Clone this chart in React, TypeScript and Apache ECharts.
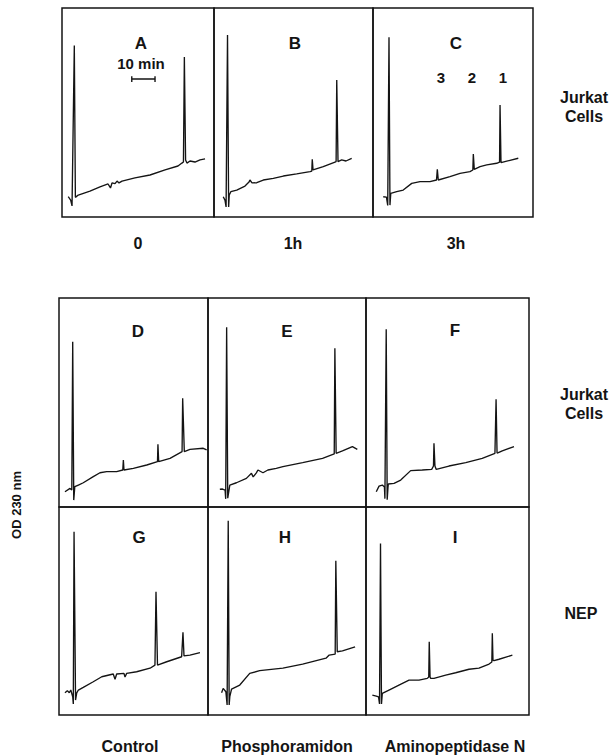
import React, { useEffect, useRef } from "react";
import * as echarts from "echarts";

// Retention time (% of run window) vs OD 230 nm (% of panel full scale)
const traceA: [number, number][] = [
  [4.1, 9.7], [5.7, 8.1], [6.6, 5.3], [8.1, 82], [8.8, 9.4], [10.7, 10.5], [18.4, 12.4], [25, 14.4],
  [30.3, 15.8], [31.9, 13.9], [32.9, 16.3], [34.9, 16], [36.2, 17.2], [37.5, 16.3], [39.5, 17.2],
  [48, 18.7], [57.9, 20.1], [67.8, 22.5], [76.3, 24.4], [78.9, 25.8], [79.9, 26.3], [80.5, 76.6],
  [81.3, 27.3], [82.2, 25.8], [84.2, 26.8], [87.5, 26.3], [90.8, 27.3], [94.1, 27.8],
];
const traceB: [number, number][] = [
  [5.8, 9.7], [6.9, 8.1], [7.6, 4.8], [8.5, 87.1], [9.2, 4.8], [9.6, 10.5], [10.6, 12.1], [14.3, 12.9],
  [19.5, 14.8], [22, 16.7], [22.6, 17.7], [23.9, 16.3], [26.9, 16.4], [31, 17.7], [37.3, 18.5],
  [43.6, 19.6], [52, 20.6], [60.4, 21.7], [61.5, 22], [61.8, 27.6], [62.3, 22.5], [68.7, 24.1],
  [76.1, 26.3], [76.8, 26.5], [77.2, 65.6], [78, 26.5], [80.3, 27.3], [83, 26.8], [86.6, 28.1],
];
const traceC: [number, number][] = [
  [6.4, 9.7], [8.4, 9.5], [9.2, 5.5], [10, 86], [10.6, 5.7], [11.1, 11.3], [14.8, 12.1], [18.9, 12.9],
  [24.2, 16.1], [29.4, 16.9], [35.6, 16.9], [39.7, 17.7], [40.2, 22.8], [40.8, 17.7], [48.1, 19.3],
  [54.4, 20.9], [60.6, 21.7], [62.4, 22.5], [62.7, 30.1], [63.3, 22.8], [66.9, 24.1], [71.1, 24.9],
  [77.3, 25.7], [79.1, 26.3], [79.4, 53.6], [80, 26], [83.6, 26.7], [90.8, 28.1],
];
const traceD: [number, number][] = [
  [4, 7.3], [7.4, 8.9], [8.6, 8.1], [9.2, 79.1], [9.9, 3.3], [10.6, 9.7], [13, 10.5], [16.3, 11.6],
  [23, 14.5], [27.5, 16.4], [32, 16.9], [38.7, 16.9], [42.8, 17.7], [43.2, 22.5], [43.6, 17.7],
  [49.9, 18.5], [58.9, 20.1], [66.1, 21.7], [66.4, 30], [66.9, 21.7], [74.5, 23.3], [82.6, 26.5],
  [83, 52], [84.1, 26.5], [87.9, 27.6], [96.8, 28.1], [99.1, 27.3],
];
const traceE: [number, number][] = [
  [7.5, 8.5], [9.2, 8.6], [10.8, 8.1], [11.2, 3.9], [11.8, 86], [12.5, 4.2], [13.8, 10.5], [18, 11.6],
  [24.3, 13.7], [27.5, 16.1], [28.6, 14.4], [30.6, 16.3], [31.6, 17.7], [34.8, 16.4], [37.9, 17.7],
  [43.2, 18.5], [47.4, 19.3], [59.9, 21.2], [72.5, 23.3], [79.9, 25.4], [80.3, 75.9], [81.1, 25.7],
  [85.1, 26.8], [91.4, 28.9], [94.5, 27.6],
];
const traceF: [number, number][] = [
  [6.3, 7.3], [8, 10], [10, 10.5], [11.3, 9.6], [11.6, 4], [12.4, 85], [13, 3.5], [13.5, 9.5],
  [13.7, 11], [17.2, 11.3], [21.3, 12.9], [27.4, 17.4], [34.5, 17.7], [40.3, 18], [41.4, 19.6],
  [41.7, 30.5], [42.3, 19.6], [43.1, 18], [50.9, 19.6], [61.2, 21.2], [71.3, 23.3], [79.1, 25.7],
  [79.8, 51.5], [80.4, 25.8], [81.2, 26], [83.6, 26.9], [90.8, 28.9],
];
const traceG: [number, number][] = [
  [4, 10.7], [5.6, 11.7], [6.9, 10.7], [7.9, 12], [9.2, 8.8], [9.6, 5.3], [10.1, 88.1], [11.1, 7.2],
  [11.9, 10.6], [13, 12], [16.3, 13.3], [23, 16], [28.7, 18.4], [36.4, 19.7], [37.6, 17.2], [38.7, 19.7],
  [43.6, 20], [44.3, 18.3], [45.4, 20], [52.1, 20.8], [61.1, 22.5], [64.4, 24], [65.1, 59.3], [66.1, 24],
  [72.3, 25.6], [82.3, 28], [83.2, 39.8], [83.9, 28.4], [87.9, 28.8], [94.6, 30],
];
const traceH: [number, number][] = [
  [8.6, 10.7], [9.6, 12.8], [11.3, 11.2], [12.1, 4.8], [12.8, 93.4], [13.4, 4.8], [13.8, 8.8],
  [14.9, 12.4], [20.1, 14.4], [26.4, 20], [32.7, 21.3], [47.4, 22.5], [59.9, 24.5], [74.7, 27.3],
  [76.7, 28.8], [80.5, 29.3], [80.9, 74.2], [81.8, 30.4], [85.1, 30.8], [93.1, 32.8],
];
const traceI: [number, number][] = [
  [3.9, 9.6], [6.3, 9.1], [7.7, 8.7], [8.3, 5.3], [8.9, 82.5], [9.5, 5.3], [10, 10.4], [14.1, 12],
  [20.2, 14.4], [26.4, 16.8], [32.5, 16.8], [37.6, 17.6], [38.5, 18.3], [38.8, 35.2], [39.3, 18.3],
  [39.7, 17.6], [41.7, 17.6], [48.9, 19.2], [55, 20.3], [63.2, 22], [69.3, 22.5], [75.5, 24.5],
  [77.2, 25.5], [77.5, 39.3], [77.9, 26.4], [78.5, 26.1], [81.6, 26.8], [89.8, 28.8],
];

const panelLetters = ["A", "B", "C", "D", "E", "F", "G", "H", "I"];
const traces = [traceA, traceB, traceC, traceD, traceE, traceF, traceG, traceH, traceI];
const timeLabels = ["0", "1h", "3h"];
const treatmentLabels = ["Control", "Phosphoramidon", "Aminopeptidase N"];
const rowLabels = ["Jurkat\nCells", "Jurkat\nCells", "NEP"];
const peakLabels = ["3", "2", "1"];
const scaleBarText = "10 min";
// scale bar in panel A data units: start, end (10 min), level
const scaleBarStart = 45.9;
const scaleBarEnd = 61.2;
const scaleBarLevel = 66;
const yAxisTitle = "OD 230 nm";

// layout (px)
const panelBoxes = [
  [62, 8, 152, 209], [214, 8, 159, 209], [373, 8, 160, 209],
  [59, 298, 149, 209], [208, 298, 158, 209], [366, 298, 163, 209],
  [59, 507, 149, 208], [208, 507, 158, 208], [366, 507, 163, 208],
];
const letterPos = [
  [141, 43], [295, 43], [456, 43],
  [138, 331], [287, 331], [455, 330],
  [139, 537], [285, 537], [455, 537],
];
const timeLabelPos = [[138, 243], [293, 243], [456, 243]];
const treatmentPos = [[130, 746], [287, 746], [455, 746]];
const rowLabelPos = [[584, 107], [584, 404], [581, 613]];
const peakLabelPos = [[441, 77], [472, 77], [503, 77]];

const FONT = '"Liberation Sans", Arial, Helvetica, sans-serif';
const INK = "#141414";

export default function App() {
  const ref = useRef<HTMLDivElement>(null);
  useEffect(() => {
    if (!ref.current) return;
    const chart = echarts.init(ref.current, undefined, { renderer: "svg" });
    const grid = panelBoxes.map(([l, t, w, h]) => ({
      left: l, top: t, width: w, height: h, show: true,
      borderColor: INK, borderWidth: 1.5, backgroundColor: "transparent",
    }));
    const xAxis = panelBoxes.map((_, i) => ({ gridIndex: i, type: "value", min: 0, max: 100, show: false }));
    const yAxis = panelBoxes.map((_, i) => ({ gridIndex: i, type: "value", min: 0, max: 100, show: false }));
    const series: any[] = traces.map((d, i) => ({
      type: "line", xAxisIndex: i, yAxisIndex: i, data: d, symbol: "none", silent: true,
      lineStyle: { color: INK, width: 1.35 },
    }));
    series.push({
      type: "line", xAxisIndex: 0, yAxisIndex: 0, symbol: "none", silent: true,
      lineStyle: { color: INK, width: 1.4 },
      data: [
        [scaleBarStart, scaleBarLevel + 1.4], [scaleBarStart, scaleBarLevel - 1.4], [scaleBarStart, scaleBarLevel],
        [scaleBarEnd, scaleBarLevel], [scaleBarEnd, scaleBarLevel + 1.4], [scaleBarEnd, scaleBarLevel - 1.4],
      ],
    });
    const txt = (text: string, x: number, y: number, size: number, extra: any = {}) => ({
      type: "text", x, y, silent: true,
      style: { text, fill: INK, font: `bold ${size}px ${FONT}`, align: "center", verticalAlign: "middle", ...extra },
    });
    const graphic: any[] = [];
    panelLetters.forEach((l, i) => graphic.push(txt(l, letterPos[i][0], letterPos[i][1], 17)));
    timeLabels.forEach((l, i) => graphic.push(txt(l, timeLabelPos[i][0], timeLabelPos[i][1], 16)));
    treatmentLabels.forEach((l, i) => graphic.push(txt(l, treatmentPos[i][0], treatmentPos[i][1], 16)));
    rowLabels.forEach((l, i) => graphic.push(txt(l, rowLabelPos[i][0], rowLabelPos[i][1], 16, { lineHeight: 19 })));
    peakLabels.forEach((l, i) => graphic.push(txt(l, peakLabelPos[i][0], peakLabelPos[i][1], 15)));
    graphic.push(txt(scaleBarText, 141, 63, 15));
    graphic.push({
      type: "text", x: 16, y: 505, rotation: Math.PI / 2, silent: true,
      style: { text: yAxisTitle, fill: INK, font: `bold 13px ${FONT}`, align: "center", verticalAlign: "middle" },
    });
    chart.setOption({ animation: false, backgroundColor: "#fff", grid, xAxis, yAxis, series, graphic });
    return () => chart.dispose();
  }, []);
  return <div ref={ref} style={{ position: "fixed", left: 0, top: 0, width: 612, height: 756 }} />;
}
